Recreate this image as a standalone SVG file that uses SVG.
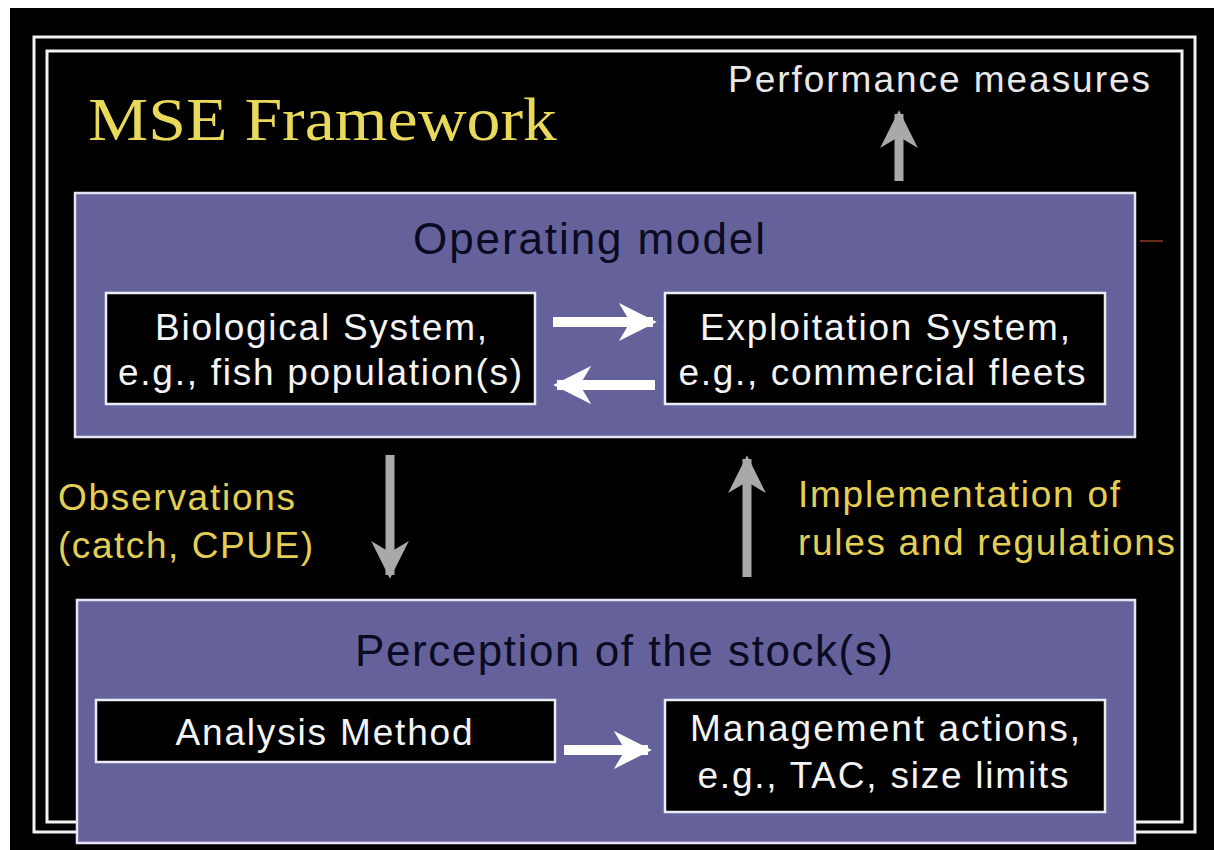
<svg xmlns="http://www.w3.org/2000/svg" width="1214" height="850" viewBox="0 0 1214 850">
  <style>
    .frame { fill: none; stroke: #f2f2f2; stroke-width: 3; }
    .panel { fill: #65629b; stroke: #e6e4f2; stroke-width: 2.5; }
    .box { fill: #000000; stroke: #ecebf4; stroke-width: 2.5; }
    .title { font-family: "Liberation Serif", "Times New Roman", serif; font-size: 62px; fill: #e9d95a; }
    .head { font-family: "Liberation Sans", Arial, sans-serif; font-size: 44px; fill: #0a0a22; text-anchor: middle; }
    .lbl { font-family: "Liberation Sans", Arial, sans-serif; font-size: 37px; fill: #f4f4f4; text-anchor: middle; }
    .note { font-family: "Liberation Sans", Arial, sans-serif; font-size: 37px; fill: #e3cf55; }
    .pm { font-family: "Liberation Sans", Arial, sans-serif; font-size: 37px; fill: #e8e8e8; }
    .flow { stroke: #a9a9a9; stroke-width: 9; fill: none; }
    .link { stroke: #ffffff; stroke-width: 10; fill: none; }
  </style>
  <defs>
    <marker id="tipGray" viewBox="0 0 10 10" refX="9" refY="5" markerWidth="4.2" markerHeight="4.2" orient="auto" markerUnits="strokeWidth">
      <path d="M0,0 L10,5 L0,10 L3,5 Z" fill="#a9a9a9"/>
    </marker>
    <marker id="tipWhite" viewBox="0 0 10 10" refX="9" refY="5" markerWidth="3.8" markerHeight="3.8" orient="auto" markerUnits="strokeWidth">
      <path d="M0,0 L10,5 L0,10 L3,5 Z" fill="#ffffff"/>
    </marker>
  </defs>

  <!-- backdrop -->
  <rect x="0" y="0" width="1214" height="850" fill="#ffffff"/>
  <rect x="10" y="8" width="1204" height="842" fill="#000000"/>

  <!-- double border -->
  <g id="border">
    <rect class="frame" x="34" y="37" width="1161" height="795"/>
    <rect class="frame" x="47" y="51" width="1135" height="771"/>
    <line x1="1140" y1="241" x2="1163" y2="241" stroke="#8a3c1c" stroke-width="1.5"/>
  </g>

  <g id="title">
    <text class="title" x="88" y="140" textLength="469" lengthAdjust="spacingAndGlyphs">MSE Framework</text>
  </g>

  <g id="performance">
    <text class="pm" x="728" y="92" textLength="422" lengthAdjust="spacing">Performance measures</text>
  </g>

  <!-- Operating model panel -->
  <g id="operating-model">
    <rect class="panel" x="75" y="193" width="1060" height="244"/>
    <text class="head" x="589" y="254" textLength="352" lengthAdjust="spacing">Operating model</text>
  </g>

  <g id="biological-system">
    <rect class="box" x="106" y="293" width="429" height="111"/>
    <text class="lbl" x="321" y="340" textLength="332" lengthAdjust="spacing">Biological System,</text>
    <text class="lbl" x="320" y="385" textLength="404" lengthAdjust="spacing">e.g., fish population(s)</text>
  </g>

  <g id="exploitation-system">
    <rect class="box" x="665" y="293" width="440" height="111"/>
    <text class="lbl" x="885" y="340" textLength="370" lengthAdjust="spacing">Exploitation System,</text>
    <text class="lbl" x="882" y="385" textLength="407" lengthAdjust="spacing">e.g., commercial fleets</text>
  </g>

  <!-- Perception panel -->
  <g id="perception">
    <rect class="panel" x="77" y="600" width="1058" height="243"/>
    <text class="head" x="624" y="666" textLength="538" lengthAdjust="spacing">Perception of the stock(s)</text>
  </g>

  <g id="analysis-method">
    <rect class="box" x="96" y="700" width="459" height="62"/>
    <text class="lbl" x="324" y="745" textLength="297" lengthAdjust="spacing">Analysis Method</text>
  </g>

  <g id="management-actions">
    <rect class="box" x="665" y="700" width="440" height="112"/>
    <text class="lbl" x="885" y="741" textLength="390" lengthAdjust="spacing">Management actions,</text>
    <text class="lbl" x="883" y="788" textLength="371" lengthAdjust="spacing">e.g., TAC, size limits</text>
  </g>

  <!-- side labels -->
  <g id="observations">
    <text class="note" x="58" y="510" textLength="237" lengthAdjust="spacing">Observations</text>
    <text class="note" x="58" y="558" textLength="255" lengthAdjust="spacing">(catch, CPUE)</text>
  </g>
  <g id="implementation">
    <text class="note" x="798" y="507" textLength="322" lengthAdjust="spacing">Implementation of</text>
    <text class="note" x="798" y="555" textLength="377" lengthAdjust="spacing">rules and regulations</text>
  </g>

  <!-- connectors -->
  <g id="connectors">
    <line class="flow" x1="899" y1="181" x2="899" y2="114" marker-end="url(#tipGray)"/>
    <line class="flow" x1="390" y1="455" x2="390" y2="575" marker-end="url(#tipGray)"/>
    <line class="flow" x1="747" y1="577" x2="747" y2="459" marker-end="url(#tipGray)"/>
    <line class="link" x1="553" y1="322" x2="653" y2="322" marker-end="url(#tipWhite)"/>
    <line class="link" x1="655" y1="385" x2="557" y2="385" marker-end="url(#tipWhite)"/>
    <line class="link" x1="564" y1="750" x2="648" y2="750" marker-end="url(#tipWhite)"/>
  </g>
</svg>
